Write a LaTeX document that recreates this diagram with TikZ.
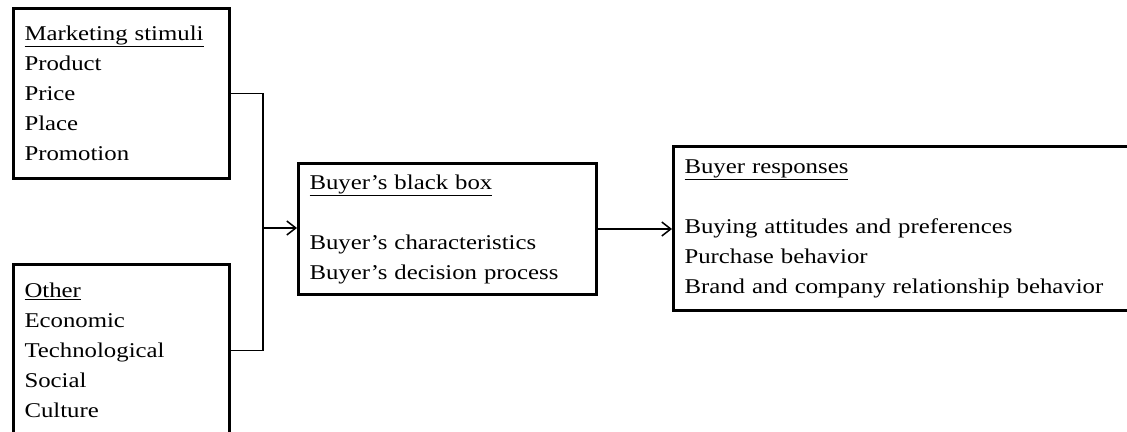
\documentclass[tikz,border=0pt]{standalone}
\usepackage{fontspec}
\setmainfont{Liberation Serif}[FakeStretch=1.18]
\usetikzlibrary{arrows.meta}

\begin{document}
\begin{tikzpicture}[x=1pt,y=-1pt,
    infobox/.style={draw,line width=3pt,rectangle,anchor=north west,
      align=left,inner xsep=11pt,inner ysep=0pt,
      font=\fontsize{21}{30}\selectfont},
    link/.style={line width=1.5pt},
    arr/.style={link,-{Straight Barb[length=9pt,width=14pt]}}]
  \useasboundingbox (0,0) rectangle (1127,431);
  \clip (0,0) rectangle (1127,431);

  \node[infobox,text width=194pt,minimum height=170pt] (stimuli) at (12,7)
    {\underline{Marketing stimuli}\\Product\\Price\\Place\\Promotion};
  \node[infobox,text width=194pt,minimum height=172pt] (other) at (12,263)
    {\underline{Other}\\Economic\\Technological\\Social\\Culture};

  \node[infobox,text width=276pt,minimum height=131pt] (blackbox) at (297,162)
    {\underline{Buyer’s black box}\\[30pt]Buyer’s characteristics\\Buyer’s decision process};
  \node[infobox,text width=448pt,minimum height=164pt] (responses) at (672,145)
    {\underline{Buyer responses}\\[30pt]Buying attitudes and preferences\\Purchase behavior\\Brand and company relationship behavior};

  \coordinate (split) at (263,228);
  \draw[link] (stimuli.east) -| (split) |- (other.east);
  \draw[arr] (split) -- (split -| blackbox.west);
  \draw[arr] (blackbox.east) -- (blackbox.east -| responses.west);
\end{tikzpicture}
\end{document}
